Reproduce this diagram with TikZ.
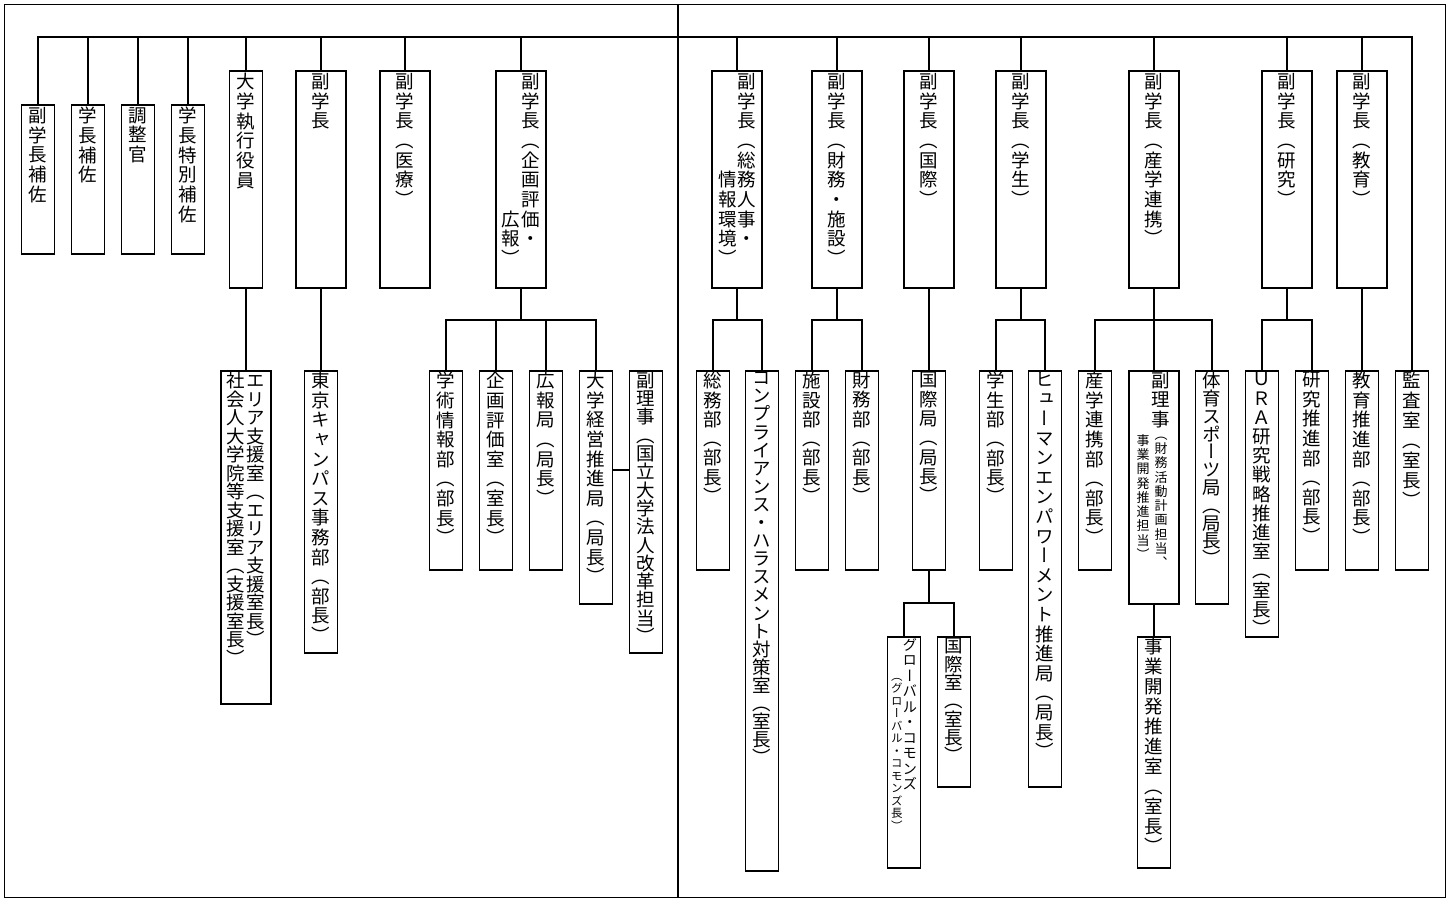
\documentclass[tikz,border=0pt]{standalone}
\usepackage{fontspec}
\newfontfamily\tatefont[RawFeature=+vert]{Noto Sans CJK JP}
\usetikzlibrary{positioning}
\newlength\tatepitch
\setlength\tatepitch{19.6pt}
% one column of vertical text, one character per row
\newcommand\tate[1]{\vtop{\baselineskip=\tatepitch\lineskiplimit=-\maxdimen\lineskip=0pt\tateloop#1\relax}}
\def\tateloop#1{\ifx#1\relax\else\hbox to 1em{\hss#1\hss}\expandafter\tateloop\fi}

\begin{document}
\begin{tikzpicture}[x=1pt, y=-1pt,
        box/.style={draw, rectangle, line width=1.9pt, inner sep=0pt, anchor=north},
        narrow/.style={box, minimum width=33},
        wide/.style={box, minimum width=50},
        tpitch/.code={\setlength\tatepitch{#1}},
        txt/.style={font=\tatefont\fontsize{18.5}{20}\selectfont, anchor=north, inner sep=0pt},
        ttxt/.style={txt, tpitch=19.7pt},
        conn/.style={line width=1.9pt},
        bus/.style={line width=2.8pt, line cap=rect}]
        \useasboundingbox (0,0) rectangle (1456,898);
        \draw[line width=1pt] (4,4) rectangle (1445,897);
        \draw[line width=1.7pt] (678,4) -- (678,897);

        % top row
        \node[narrow, minimum height=149] (hosa) at (38,104) {};
        \node[narrow, minimum height=149] (gchosa) at (88,104) {};
        \node[narrow, minimum height=149] (chosei) at (138,104) {};
        \node[narrow, minimum height=149] (tokuhosa) at (188,104) {};
        \node[narrow, minimum height=217] (shikko) at (246,70) {};
        \node[wide, minimum height=217] (vp) at (321,70) {};
        \node[wide, minimum height=217] (iryo) at (405,70) {};
        \node[wide, minimum height=217] (kikaku) at (521,70) {};
        \node[wide, minimum height=217] (somu) at (737,70) {};
        \node[wide, minimum height=217] (zaimu) at (837,70) {};
        \node[wide, minimum height=217] (kokusai) at (929,70) {};
        \node[wide, minimum height=217] (gakusei) at (1021,70) {};
        \node[wide, minimum height=217] (sangaku) at (1154,70) {};
        \node[wide, minimum height=217] (kenkyu) at (1287,70) {};
        \node[wide, minimum height=217] (kyoiku) at (1362,70) {};

        \node[ttxt] (hosa-l) at ([yshift=-3pt]hosa.north) {\tate{副学長補佐}};
        \node[ttxt] (gchosa-l) at ([yshift=-3pt]gchosa.north) {\tate{学長補佐}};
        \node[ttxt] (chosei-l) at ([yshift=-3pt]chosei.north) {\tate{調整官}};
        \node[ttxt] (tokuhosa-l) at ([yshift=-3pt]tokuhosa.north) {\tate{学長特別補佐}};
        \node[ttxt] (shikko-l) at ([yshift=-3pt]shikko.north) {\tate{大学執行役員}};
        \node[ttxt] (vp-l) at ([yshift=-3pt]vp.north) {\tate{副学長}};
        \node[ttxt] (iryo-l) at ([yshift=-3pt]iryo.north) {\tate{副学長（医療）}};
        \node[ttxt] (kikaku-l) at ([yshift=-3pt]kikaku.north) {\lower137.9pt\tate{広報）}\kern1.5pt\tate{副学長（企画評価・}};
        \node[ttxt] (somu-l) at ([yshift=-3pt]somu.north) {\lower98.5pt\tate{情報環境）}\kern0.5pt\tate{副学長（総務人事・}};
        \node[ttxt] (zaimu-l) at ([yshift=-3pt]zaimu.north) {\tate{副学長（財務・施設）}};
        \node[ttxt] (kokusai-l) at ([yshift=-3pt]kokusai.north) {\tate{副学長（国際）}};
        \node[ttxt] (gakusei-l) at ([yshift=-3pt]gakusei.north) {\tate{副学長（学生）}};
        \node[ttxt] (sangaku-l) at ([yshift=-3pt]sangaku.north) {\tate{副学長（産学連携）}};
        \node[ttxt] (kenkyu-l) at ([yshift=-3pt]kenkyu.north) {\tate{副学長（研究）}};
        \node[ttxt] (kyoiku-l) at ([yshift=-3pt]kyoiku.north) {\tate{副学長（教育）}};

        % second row
        \node[wide, minimum height=333] (area) at (246,370) {};
        \node[narrow, minimum height=282] (tokyo) at (321,370) {};
        \node[narrow, minimum height=199] (jyoho) at (446,370) {};
        \node[narrow, minimum height=199] (hyoka) at (496,370) {};
        \node[narrow, minimum height=199] (koho) at (546,370) {};
        \node[narrow, minimum height=233] (keiei) at (596,370) {};
        \node[narrow, minimum height=282] (riji1) at (646,370) {};
        \node[narrow, minimum height=199] (somubu) at (713,370) {};
        \node[narrow, minimum height=500] (comp) at (762,370) {};
        \node[narrow, minimum height=199] (shisetsu) at (812,370) {};
        \node[narrow, minimum height=199] (zaimubu) at (862,370) {};
        \node[narrow, minimum height=199] (kokukyoku) at (929,370) {};
        \node[narrow, minimum height=231] (global) at (904,636) {};
        \node[narrow, minimum height=150] (kokushitsu) at (954,636) {};
        \node[narrow, minimum height=199] (gakuseibu) at (996,370) {};
        \node[narrow, minimum height=416] (human) at (1045,370) {};
        \node[narrow, minimum height=199] (sangakubu) at (1095,370) {};
        \node[wide, minimum height=233] (riji2) at (1154,370) {};
        \node[narrow, minimum height=231] (jigyo) at (1154,636) {};
        \node[narrow, minimum height=233] (taiiku) at (1212,370) {};
        \node[narrow, minimum height=266] (ura) at (1262,370) {};
        \node[narrow, minimum height=199] (kenkyubu) at (1312,370) {};
        \node[narrow, minimum height=199] (kyoikubu) at (1362,370) {};
        \node[narrow, minimum height=199] (kansa) at (1412,370) {};

        \node[txt, tpitch=18.5pt] (area-l) at ([yshift=-2pt]area.north) {\tate{社会人大学院等支援室（支援室長）}\kern1.5pt\tate{エリア支援室（エリア支援室長）}};
        \node[txt] (tokyo-l) at ([yshift=-2pt]tokyo.north) {\tate{東京キャンパス事務部（部長）}};
        \node[txt] (jyoho-l) at ([yshift=-2pt]jyoho.north) {\tate{学術情報部（部長）}};
        \node[txt] (hyoka-l) at ([yshift=-2pt]hyoka.north) {\tate{企画評価室（室長）}};
        \node[txt] (koho-l) at ([yshift=-2pt]koho.north) {\tate{広報局（局長）}};
        \node[txt] (keiei-l) at ([yshift=-2pt]keiei.north) {\tate{大学経営推進局（局長）}};
        \node[txt, tpitch=18.3pt] (riji1-l) at ([yshift=-2pt]riji1.north) {\tate{副理事（国立大学法人改革担当）}};
        \node[txt, tpitch=19.3pt] (somubu-l) at ([yshift=-2pt]somubu.north) {\tate{総務部（部長）}};
        \node[txt, tpitch=18.1pt] (comp-l) at ([yshift=-2pt]comp.north) {\tate{コンプライアンス・ハラスメント対策室（室長）}};
        \node[txt, tpitch=19.3pt] (shisetsu-l) at ([yshift=-2pt]shisetsu.north) {\tate{施設部（部長）}};
        \node[txt, tpitch=19.3pt] (zaimubu-l) at ([yshift=-2pt]zaimubu.north) {\tate{財務部（部長）}};
        \node[txt, tpitch=19.3pt] (kokukyoku-l) at ([yshift=-2pt]kokukyoku.north) {\tate{国際局（局長）}};
        \node[txt] (global-l) at ([yshift=-2pt]global.north)
            {{\fontsize{11.5}{12}\selectfont\setlength\tatepitch{12.5pt}\lower30pt\tate{（グローバル・コモンズ長）}}%
             {\fontsize{14.5}{15}\selectfont\setlength\tatepitch{15.5pt}\tate{グローバル・コモンズ}}};
        \node[txt, tpitch=18.3pt] (kokushitsu-l) at ([yshift=-2pt]kokushitsu.north) {\tate{国際室（室長）}};
        \node[txt, tpitch=19.3pt] (gakuseibu-l) at ([yshift=-2pt]gakuseibu.north) {\tate{学生部（部長）}};
        \node[txt] (human-l) at ([yshift=-2pt]human.north) {\tate{ヒューマンエンパワーメント推進局（局長）}};
        \node[txt] (sangakubu-l) at ([yshift=-2pt]sangakubu.north) {\tate{産学連携部（部長）}};
        \node[txt] (riji2-l) at ([xshift=7pt, yshift=-2pt]riji2.north) {\tate{副理事}};
        \node[txt, font=\tatefont\fontsize{13}{14}\selectfont, tpitch=14.3pt] (riji2-s) at ([xshift=-2pt, yshift=-64pt]riji2.north)
            {\lower6pt\tate{事業開発推進担当）}\kern5pt\tate{（財務活動計画担当、}};
        \node[txt, tpitch=20pt] (jigyo-l) at ([yshift=-2pt]jigyo.north) {\tate{事業開発推進室（室長）}};
        \node[txt, tpitch=17.8pt] (taiiku-l) at ([yshift=-2pt]taiiku.north) {\tate{体育スポーツ局（局長）}};
        \node[txt, tpitch=19.2pt] (ura-l) at ([yshift=-2pt]ura.north) {\tate{ＵＲＡ研究戦略推進室（室長）}};
        \node[txt] (kenkyubu-l) at ([yshift=-2pt]kenkyubu.north) {\tate{研究推進部（部長）}};
        \node[txt] (kyoikubu-l) at ([yshift=-2pt]kyoikubu.north) {\tate{教育推進部（部長）}};
        \node[txt, tpitch=20pt] (kansa-l) at ([yshift=-2pt]kansa.north) {\tate{監査室（室長）}};

        % top bus
        \coordinate (busL) at (38,37);
        \coordinate (busR) at (1412,37);
        \draw[bus] (busL) -- (busR);
        \foreach \n in {hosa,gchosa,chosei,tokuhosa,shikko,vp,iryo,kikaku,somu,zaimu,kokusai,gakusei,sangaku,kenkyu,kyoiku}
            \draw[conn] (\n.north) -- (\n.north |- busL);
        \draw[conn] (kansa.north) -- (busR);

        % direct lines
        \draw[conn] (shikko.south) -- (area.north);
        \draw[conn] (vp.south) -- (tokyo.north);
        \draw[conn] (kokusai.south) -- (kokukyoku.north);
        \draw[conn] (kyoiku.south) -- (kyoikubu.north);
        \draw[conn] (riji2.south) -- (jigyo.north);

        % branches
        \coordinate (kj) at (521,320);
        \draw[conn] (kikaku.south) -- (kj);
        \draw[conn] (kj) -| (jyoho.north);
        \draw[conn] (kj) -| (hyoka.north);
        \draw[conn] (kj) -| (koho.north);
        \draw[conn] (kj) -| (keiei.north);
        \coordinate (rj) at (0,470);
        \draw[conn] (keiei.east |- rj) -- (riji1.west |- rj);

        \coordinate (sj) at (737,320);
        \draw[conn] (somu.south) -- (sj);
        \draw[conn] (sj) -| (somubu.north);
        \draw[conn] (sj) -| (comp.north);

        \coordinate (zj) at (837,320);
        \draw[conn] (zaimu.south) -- (zj);
        \draw[conn] (zj) -| (shisetsu.north);
        \draw[conn] (zj) -| (zaimubu.north);

        \coordinate (kokj) at (929,603);
        \draw[conn] (kokukyoku.south) -- (kokj);
        \draw[conn] (kokj) -| (global.north);
        \draw[conn] (kokj) -| (kokushitsu.north);

        \coordinate (gj) at (1021,320);
        \draw[conn] (gakusei.south) -- (gj);
        \draw[conn] (gj) -| (gakuseibu.north);
        \draw[conn] (gj) -| (human.north);

        \coordinate (snj) at (1154,320);
        \draw[conn] (sangaku.south) -- (snj);
        \draw[conn] (snj) -| (sangakubu.north);
        \draw[conn] (snj) -| (riji2.north);
        \draw[conn] (snj) -| (taiiku.north);

        \coordinate (kkj) at (1287,320);
        \draw[conn] (kenkyu.south) -- (kkj);
        \draw[conn] (kkj) -| (ura.north);
        \draw[conn] (kkj) -| (kenkyubu.north);
    \end{tikzpicture}
\end{document}
